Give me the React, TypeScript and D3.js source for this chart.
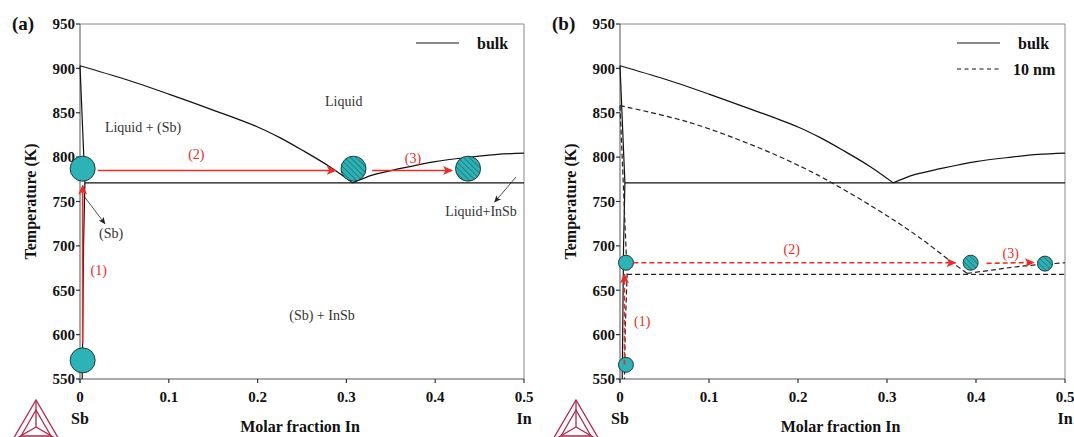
import React from "react";
import * as d3 from "d3";

// ---------- data ----------
const yTicks = [550, 600, 650, 700, 750, 800, 850, 900, 950];
const xTicks = [0, 0.1, 0.2, 0.3, 0.4, 0.5];
const xTickLabels = ["0", "0.1", "0.2", "0.3", "0.4", "0.5"];

// bulk phase boundaries
const bulkLiqSbX = [0, 0.05, 0.1, 0.15, 0.2, 0.225, 0.25, 0.28, 0.307];
const bulkLiqSbT = [903, 888, 871, 853, 834, 822, 808, 790, 771];
const bulkLiqInX = [0.307, 0.33, 0.36, 0.4, 0.44, 0.47, 0.5];
const bulkLiqInT = [771, 780, 787, 795, 800, 803, 804.5];
const bulkSolX = [0, 0.0055, 0.004, 0.0025];
const bulkSolT = [903, 771, 700, 550];
const bulkEutT = 771;
const bulkEutX0 = 0.0055;

// 10 nm phase boundaries
const nanoLiqSbX = [0, 0.075, 0.15, 0.206, 0.24, 0.3, 0.337, 0.375, 0.39];
const nanoLiqSbT = [858, 840, 813, 788, 770, 734, 709, 680, 669];
const nanoLiqInX = [0.39, 0.42, 0.45, 0.5];
const nanoLiqInT = [669, 673, 677, 681];
const nanoSolX = [0, 0.008, 0.006, 0.005];
const nanoSolT = [858, 668, 610, 550];
const nanoEutT = 668;
const nanoEutX0 = 0.008;

// markers (x, T)
const aSolidCircles = [[0.003, 787], [0.003, 571]];
const aHatchCircles = [[0.308, 787], [0.437, 787]];
const bSolidCircles = [[0.0067, 681], [0.0067, 566]];
const bHatchCircles = [[0.394, 681], [0.4775, 680]];

// red path arrows: [x0, T0, x1, T1]
const aArrows = [[0.003, 590, 0.003, 768], [0.02, 785, 0.288, 785], [0.329, 785, 0.419, 785]];
const bArrows = [[0.005, 566, 0.005, 668], [0.015, 681, 0.377, 681], [0.412, 680.3, 0.465, 681.3]];
const stepLabels = ["(1)", "(2)", "(3)"];
const aStepPos = [[0.021, 673], [0.131, 803], [0.375, 799]];
const bStepPos = [[0.025, 615], [0.193, 696], [0.439, 692]];

// region labels (a)
const regionText = ["Liquid", "Liquid + (Sb)", "(Sb)", "Liquid+InSb", "(Sb) + InSb"];
const regionPos = [[0.297, 863], [0.071, 834], [0.035, 714.5], [0.4516, 739], [0.2725, 622]];
// black pointer arrows (a)
const pointerArrows = [[0.0045, 756, 0.028, 725], [0.491, 777.6, 0.467, 749.4]];

const FONT = "'Liberation Serif', 'Times New Roman', serif";
const RED = "#ee2a24";
const TEAL = "#2bb3b5";

function zip(xs: number[], ts: number[]): [number, number][] {
  return xs.map((x, i) => [x, ts[i]] as [number, number]);
}

function Logo({ dx }: { dx: number }) {
  const ax = 36 + dx;
  const top = 400, bot = 441;
  const l = 12 + dx, r = 60 + dx;
  const cx = ax, cy = 427;
  const it = 410, ib = 436, il = 21 + dx, ir = 51 + dx;
  const c = "#b3264a";
  return (
    <g stroke={c} fill="none" strokeWidth={1.3}>
      <path d={`M${ax},${top}L${l},${bot}L${r},${bot}Z`} />
      <path d={`M${ax},${it}L${il},${ib}L${ir},${ib}Z`} />
      <path d={`M${ax},${top}L${cx},${cy}M${l},${bot}L${cx},${cy}M${r},${bot}L${cx},${cy}`} />
    </g>
  );
}

function Panel(props: {
  id: string;
  letter: string;
  left: number;
  right: number;
  nano: boolean;
}) {
  const { id, letter, left, right, nano } = props;
  const top = 24, bottom = 379;
  const x = d3.scaleLinear().domain([0, 0.5]).range([left, right]);
  const y = d3.scaleLinear().domain([550, 950]).range([bottom, top]);
  const lineM = d3.line<[number, number]>().x((d) => x(d[0])).y((d) => y(d[1])).curve(d3.curveCatmullRom.alpha(0.5));
  const lineL = d3.line<[number, number]>().x((d) => x(d[0])).y((d) => y(d[1]));
  const solid = nano ? bSolidCircles : aSolidCircles;
  const hatch = nano ? bHatchCircles : aHatchCircles;
  const arrows = nano ? bArrows : aArrows;
  const stepPos = nano ? bStepPos : aStepPos;
  const rad = nano ? 7.5 : 12.5;
  const dash = nano ? "5,3" : undefined;
  const dx = left - 80;
  return (
    <g>
      <defs>
        <pattern id={`hatch-${id}`} patternUnits="userSpaceOnUse" width={4} height={4} patternTransform="rotate(-45)">
          <line x1={0} y1={0} x2={0} y2={4} stroke="#1d4a4f" strokeWidth={1} />
        </pattern>
        <marker id={`redhead-${id}`} viewBox="0 0 10 10" refX={9} refY={5} markerWidth={10} markerHeight={10} markerUnits="userSpaceOnUse" orient="auto">
          <path d="M0,0.5L10,5L0,9.5L2.5,5Z" fill={RED} />
        </marker>
        <marker id={`blkhead-${id}`} viewBox="0 0 10 10" refX={9} refY={5} markerWidth={7} markerHeight={7} markerUnits="userSpaceOnUse" orient="auto">
          <path d="M0,0.5L10,5L0,9.5L2.5,5Z" fill="#222" />
        </marker>
      </defs>
      <text x={left - 68} y={30} fontFamily={FONT} fontWeight="bold" fontSize={19} fill="#111">{letter}</text>
      {/* frame */}
      <line x1={left} y1={top} x2={right} y2={top} stroke="#888" strokeWidth={1} />
      <line x1={right} y1={top} x2={right} y2={bottom} stroke="#888" strokeWidth={1} />
      <line x1={left} y1={top} x2={left} y2={bottom + 4} stroke="#555" strokeWidth={1} />
      <line x1={left - 2} y1={bottom} x2={right} y2={bottom} stroke="#555" strokeWidth={1} />
      {yTicks.map((t) => (
        <g key={t}>
          <line x1={left - 4} x2={left} y1={y(t)} y2={y(t)} stroke="#333" strokeWidth={1.2} />
          <text x={left - 5} y={y(t)} dy="0.35em" textAnchor="end" fontFamily={FONT} fontWeight="bold" fontSize={15} fill="#111">{t}</text>
        </g>
      ))}
      {xTicks.map((t, i) => (
        <g key={t}>
          <line x1={x(t)} x2={x(t)} y1={bottom} y2={bottom + 4} stroke="#333" strokeWidth={1.2} />
          <text x={x(t)} y={402} textAnchor="middle" fontFamily={FONT} fontWeight="bold" fontSize={15} fill="#111">{xTickLabels[i]}</text>
        </g>
      ))}
      <text x={x(0)} y={424} textAnchor="middle" fontFamily={FONT} fontWeight="bold" fontSize={16} fill="#111">Sb</text>
      <text x={x(0.5)} y={424} textAnchor="middle" fontFamily={FONT} fontWeight="bold" fontSize={16} fill="#111">In</text>
      <text x={(left + right) / 2 - 2} y={432} textAnchor="middle" fontFamily={FONT} fontWeight="bold" fontSize={16} fill="#111">Molar fraction In</text>
      <text transform={`translate(${left - 44},${(top + bottom) / 2}) rotate(-90)`} textAnchor="middle" fontFamily={FONT} fontWeight="bold" fontSize={16} fill="#111">Temperature (K)</text>
      <Logo dx={dx} />
      {/* bulk boundaries */}
      <g fill="none" stroke="#111" strokeWidth={1.2}>
        <path d={lineM(zip(bulkLiqSbX, bulkLiqSbT)) || ""} />
        <path d={lineM(zip(bulkLiqInX, bulkLiqInT)) || ""} />
        <path d={lineL(zip(bulkSolX, bulkSolT)) || ""} />
        <line x1={x(bulkEutX0)} x2={x(0.5)} y1={y(bulkEutT)} y2={y(bulkEutT)} />
      </g>
      {nano && (
        <g fill="none" stroke="#222" strokeWidth={1.2} strokeDasharray="5,3">
          <path d={lineM(zip(nanoLiqSbX, nanoLiqSbT)) || ""} />
          <path d={lineM(zip(nanoLiqInX, nanoLiqInT)) || ""} />
          <path d={lineL(zip(nanoSolX, nanoSolT)) || ""} />
          <line x1={x(nanoEutX0)} x2={x(0.5)} y1={y(nanoEutT)} y2={y(nanoEutT)} />
        </g>
      )}
      {/* legend */}
      <line x1={right - 108} x2={right - 65} y1={43} y2={43} stroke="#111" strokeWidth={1.2} />
      <text x={right - 47} y={43} dy="0.35em" fontFamily={FONT} fontWeight="bold" fontSize={16} fill="#111">bulk</text>
      {nano && (
        <g>
          <line x1={right - 108} x2={right - 65} y1={69} y2={69} stroke="#111" strokeWidth={1.2} strokeDasharray="4,3.5" />
          <text x={right - 52} y={69} dy="0.35em" fontFamily={FONT} fontWeight="bold" fontSize={16} fill="#111">10 nm</text>
        </g>
      )}
      {/* region labels (panel a only) */}
      {!nano && regionText.map((s, i) => (
        <text key={s} x={x(regionPos[i][0])} y={y(regionPos[i][1])} dy="0.35em" textAnchor="middle" fontFamily={FONT} fontSize={14} fill="#333">{s}</text>
      ))}
      {!nano && pointerArrows.map((a, i) => (
        <line key={i} x1={x(a[0])} y1={y(a[1])} x2={x(a[2])} y2={y(a[3])} stroke="#222" strokeWidth={0.8} markerEnd={`url(#blkhead-${id})`} />
      ))}
      {/* circles */}
      {solid.map((c, i) => (
        <circle key={i} cx={x(c[0])} cy={y(c[1])} r={rad} fill={TEAL} stroke="#1c3d40" strokeWidth={1} />
      ))}
      {hatch.map((c, i) => (
        <g key={i}>
          <circle cx={x(c[0])} cy={y(c[1])} r={rad} fill={TEAL} />
          <circle cx={x(c[0])} cy={y(c[1])} r={rad} fill={`url(#hatch-${id})`} stroke="#1c3d40" strokeWidth={1} />
        </g>
      ))}
      {/* red arrows */}
      {arrows.map((a, i) => (
        <line key={i} x1={x(a[0])} y1={y(a[1])} x2={x(a[2])} y2={y(a[3])} stroke={RED} strokeWidth={1.6} strokeDasharray={dash} markerEnd={`url(#redhead-${id})`} />
      ))}
      {stepLabels.map((s, i) => (
        <text key={s} x={x(stepPos[i][0])} y={y(stepPos[i][1])} dy="0.35em" textAnchor="middle" fontFamily={FONT} fontSize={14} fill={RED}>{s}</text>
      ))}
    </g>
  );
}

export default function App() {
  return (
    <svg width={1074} height={437} style={{ position: "absolute", left: 0, top: 0, background: "#fff" }}>
      <rect width={1074} height={437} fill="#fff" />
      <Panel id="a" letter="(a)" left={80} right={524} nano={false} />
      <Panel id="b" letter="(b)" left={620} right={1065} nano={true} />
    </svg>
  );
}
